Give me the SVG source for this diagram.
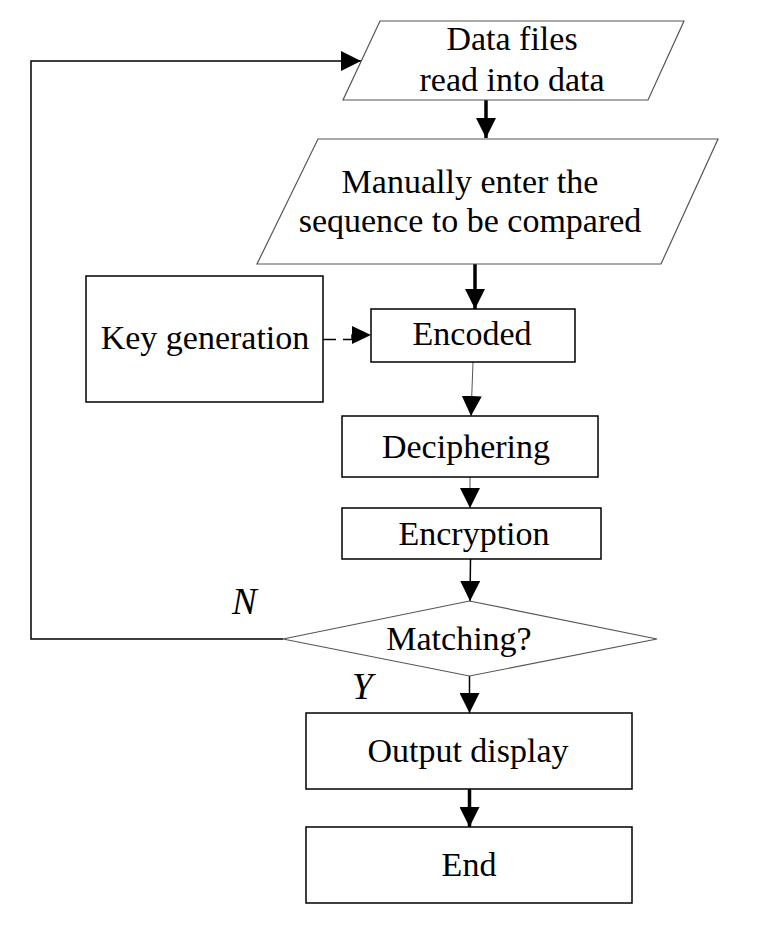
<svg xmlns="http://www.w3.org/2000/svg" width="762" height="928" viewBox="0 0 762 928">
<defs>
<marker id="ah" viewBox="0 0 10 10" refX="10" refY="5" markerWidth="20" markerHeight="20" markerUnits="userSpaceOnUse" orient="auto">
<path d="M0,0 L10,5 L0,10 Z" fill="#000"/>
</marker>
</defs>
<style>
.n{fill:#fff;stroke:#000;stroke-width:1.5}
.p{fill:#fff;stroke:#555;stroke-width:1.2}
.t{font-family:"Liberation Serif","Times New Roman",serif;font-size:34px;fill:#000;text-anchor:middle}
.i{font-family:"Liberation Serif","Times New Roman",serif;font-size:37px;font-style:italic;fill:#000}
.c{fill:none;stroke:#000;stroke-width:1.5}
.k{fill:none;stroke:#000;stroke-width:3.5}
.h{fill:none;stroke:#555;stroke-width:1}
</style>
<rect width="762" height="928" fill="#fff"/>
<g id="connectors">
<polyline class="c" points="283,639 31,639 31,61 361,61" marker-end="url(#ah)"/>
<line class="k" x1="486" y1="100" x2="486" y2="138" marker-end="url(#ah)"/>
<line class="k" x1="475" y1="264" x2="475" y2="309" marker-end="url(#ah)"/>
<g id="key-to-encoded">
<path class="c" d="M323,339.5 H336 M343,339.5 H352 V335 H354"/>
<path d="M352,326 L371,335 L352,344 Z" fill="#000"/>
</g>
<line class="h" x1="473" y1="362" x2="471" y2="416" marker-end="url(#ah)"/>
<line class="h" x1="470" y1="477" x2="470" y2="508" marker-end="url(#ah)"/>
<line class="c" x1="470.5" y1="559" x2="470" y2="601" stroke-width="1" marker-end="url(#ah)"/>
<line class="c" x1="469.5" y1="676" x2="469.5" y2="713" stroke-width="1" marker-end="url(#ah)"/>
<line class="k" x1="469.5" y1="789" x2="469.5" y2="827" marker-end="url(#ah)"/>
</g>
<g id="input1">
<polygon class="p" points="380,21 684,21 648,100 343,100"/>
<text class="t" x="512" y="50">Data files</text>
<text class="t" x="512" y="91">read into data</text>
</g>
<g id="input2">
<polygon class="p" points="318,139 718,139 661,264 257,264"/>
<text class="t" x="470" y="193">Manually enter the</text>
<text class="t" x="470" y="232">sequence to be compared</text>
</g>
<g id="keygen">
<rect class="n" x="86" y="276" width="237" height="126"/>
<text class="t" x="205" y="349">Key generation</text>
</g>
<g id="encoded">
<rect class="n" x="371" y="309" width="204" height="53"/>
<text class="t" x="472" y="345">Encoded</text>
</g>
<g id="deciphering">
<rect class="n" x="342" y="416" width="256" height="61"/>
<text class="t" x="466" y="458">Deciphering</text>
</g>
<g id="encryption">
<rect class="n" x="342" y="508" width="259" height="51"/>
<text class="t" x="474" y="545">Encryption</text>
</g>
<g id="matching">
<polygon class="p" points="283,639 469.5,601 657,639 469.5,676"/>
<text class="t" x="459" y="650">Matching?</text>
</g>
<text class="i" x="232" y="614">N</text>
<text class="i" x="352" y="699">Y</text>
<g id="output">
<rect class="n" x="306" y="713" width="326" height="76"/>
<text class="t" x="468" y="762">Output display</text>
</g>
<g id="end">
<rect class="n" x="306" y="827" width="326" height="76"/>
<text class="t" x="469" y="876">End</text>
</g>
</svg>
